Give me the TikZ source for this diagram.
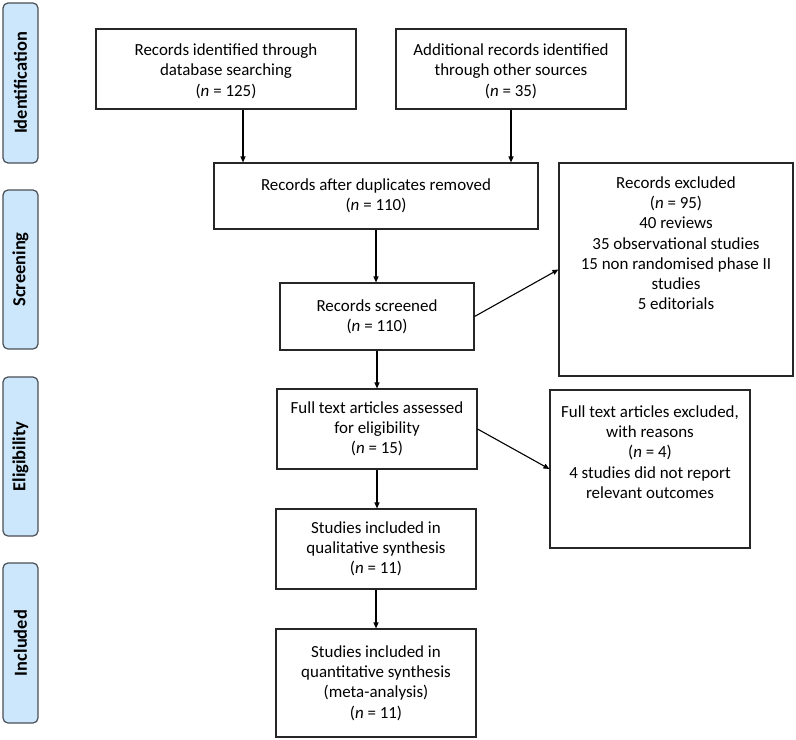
\documentclass[tikz,border=0pt]{standalone}
\usepackage{fontspec}
\setmainfont{Carlito}
\usetikzlibrary{arrows.meta}
\definecolor{barfill}{HTML}{CCE6FB}
\definecolor{bardraw}{HTML}{4A4F55}
\tikzset{
  box/.style={draw=black!85, line width=1.1bp, fill=white, inner sep=0pt, align=center,
    font=\fontsize{17}{20.3}\selectfont},
  txt/.style={inner sep=0pt, align=center, font=\fontsize{17}{20.3}\selectfont},
  bar/.style={draw=bardraw, fill=barfill, line width=1.2bp, rounded corners=5bp,
    minimum width=35bp, minimum height=160bp, inner sep=0pt},
  bartxt/.style={rotate=90, font=\fontsize{18.5}{20}\selectfont\bfseries},
  arr/.style={-{Triangle[length=6bp,width=5bp]}, line width=1.1bp, black}
}
\newcommand{\nn}[1]{(\textit{n} = #1)}
\begin{document}
\begin{tikzpicture}[x=1bp,y=-1bp]
\useasboundingbox (0,0) rectangle (796,740);
% phase bars
\node[bar, minimum height=160bp] (p1) at (20.5,83) {};
\node[bartxt] (p1t) at (p1.center) {Identification};
\node[bar, minimum height=159bp] (p2) at (20.5,269.5) {};
\node[bartxt] (p2t) at (p2.center) {Screening};
\node[bar, minimum height=159bp] (p3) at (20.5,456.5) {};
\node[bartxt] (p3t) at (p3.center) {Eligibility};
\node[bar, minimum height=160bp] (p4) at (20.5,643) {};
\node[bartxt] (p4t) at (p4.center) {Included};
% boxes
\node[box, minimum width=260bp, minimum height=80bp] (b1) at (226,69)
  {\rule{0pt}{16bp}Records identified through\\database searching\\\nn{125}};
\node[box, minimum width=230bp, minimum height=80bp] (b2) at (511,69)
  {\rule{0pt}{16bp}Additional records identified\\through other sources\\\nn{35}};
\node[box, minimum width=324bp, minimum height=66bp] (b3) at (376,196)
  {Records after duplicates removed\\\nn{110}};
\node[box, minimum width=194bp, minimum height=67bp] (b4) at (377,316.5)
  {Records screened\\\nn{110}};
\node[box, minimum width=234bp, minimum height=213bp] (e1) at (676,269.5) {};
\node[txt, anchor=north] (e1t) at ([yshift=-14bp]e1.north)
  {Records excluded\\\nn{95}\\40 reviews\\35 observational studies\\15 non randomised phase II\\studies\\5 editorials};
\node[box, minimum width=200bp, minimum height=80bp] (b5) at (377,429)
  {Full text articles assessed\\for eligibility\\\nn{15}};
\node[box, minimum width=200bp, minimum height=158bp] (e2) at (650,469) {};
\node[txt, anchor=north] (e2t) at ([yshift=-16bp]e2.north)
  {Full text articles excluded,\\with reasons\\\nn{4}\\4 studies did not report\\relevant outcomes};
\node[box, minimum width=200bp, minimum height=80bp] (b6) at (376,549)
  {Studies included in\\qualitative synthesis\\\nn{11}};
\node[box, minimum width=200bp, minimum height=108bp] (b7) at (376,683)
  {Studies included in\\quantitative synthesis\\(meta-analysis)\\\nn{11}};
% arrows
\draw[arr] ([xshift=17bp]b1.south) -- ([xshift=17bp]b1.south |- b3.north);
\draw[arr] (b2.south) -- (b2.south |- b3.north);
\draw[arr] (b3.south) -- (b3.south |- b4.north);
\draw[arr] (b4.east) -- (e1.west);
\draw[arr] (b4.south) -- (b4.south |- b5.north);
\draw[arr] (b5.east) -- (e2.west);
\draw[arr] (b5.south) -- (b5.south |- b6.north);
\draw[arr] (b6.south) -- (b6.south |- b7.north);
\end{tikzpicture}
\end{document}
